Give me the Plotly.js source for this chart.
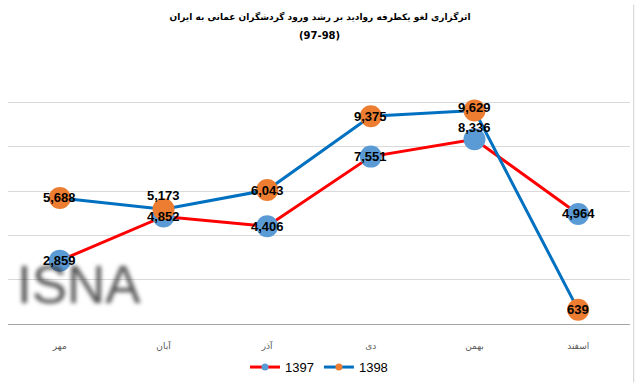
<!DOCTYPE html>
<html>
<head>
<meta charset="utf-8">
<script src="https://cdn.plot.ly/plotly-3.0.1.min.js"></script>
<style>
html,body{margin:0;padding:0;background:#fff;}
#chart{width:640px;height:390px;}
</style>
</head>
<body>
<div id="chart"></div>
<script>
const categories = ['مهر', 'آبان', 'آذر', 'دی', 'بهمن', 'اسفند'];
const series1397 = [2859, 4852, 4406, 7551, 8336, 4964];
const series1398 = [5688, 5173, 6043, 9375, 9629, 639];
const labels1397 = ['2,859', '4,852', '4,406', '7,551', '8,336', '4,964'];
const labels1398 = ['5,688', '5,173', '6,043', '9,375', '9,629', '639'];
const shift1397 = [0, 0, 0, 0, 12, 0];
const shift1398 = [0, 14, 0, 0, 3, 0];
const seriesNames = ['1397', '1398'];

const lineColors = ['#ff0000', '#0070c0'];
const markerColors = ['#5b9bd5', '#ed7d31'];

const traces = [
  {
    x: categories, y: series1397, name: seriesNames[0], type: 'scatter', mode: 'lines+markers',
    line: {color: lineColors[0], width: 3},
    marker: {color: markerColors[0], size: 22}, showlegend: false
  },
  {
    x: categories, y: series1398, name: seriesNames[1], type: 'scatter', mode: 'lines+markers',
    line: {color: lineColors[1], width: 3},
    marker: {color: markerColors[1], size: 22}, showlegend: false
  },
  // legend entries (small markers, no data)
  {
    x: [null], y: [null], name: seriesNames[0], type: 'scatter', mode: 'lines+markers',
    line: {color: lineColors[0], width: 3}, marker: {color: markerColors[0], size: 7}
  },
  {
    x: [null], y: [null], name: seriesNames[1], type: 'scatter', mode: 'lines+markers',
    line: {color: lineColors[1], width: 3}, marker: {color: markerColors[1], size: 7}
  }
];

const annotations = [];
const lblFont = {family: 'Liberation Sans, Arial, sans-serif', size: 13, color: '#000'};
// watermark first so it sits beneath labels
annotations.push({
  x: 0.012, y: 0.147, xref: 'paper', yref: 'paper', xanchor: 'left', yanchor: 'middle',
  text: 'ISNA', showarrow: false,
  font: {family: 'Liberation Sans, Arial, sans-serif', size: 53, color: 'rgba(55,55,55,0.85)'}
});
categories.forEach((c, i) => {
  annotations.push({x: c, y: series1397[i], xref: 'x', yref: 'y', text: '<b>' + labels1397[i] + '</b>',
    showarrow: false, font: lblFont, yshift: shift1397[i]});
  annotations.push({x: c, y: series1398[i], xref: 'x', yref: 'y', text: '<b>' + labels1398[i] + '</b>',
    showarrow: false, font: lblFont, yshift: shift1398[i]});
});
annotations.push({
  x: 0.5, y: (390 - 60 - 35) / 272, xref: 'paper', yref: 'paper', xanchor: 'center', yanchor: 'middle',
  text: '<b>(97-98)</b>', showarrow: false,
  font: {family: 'DejaVu Sans, sans-serif', size: 10, color: '#000'}
});

const layout = {
  width: 640, height: 390,
  margin: {l: 8, r: 10, t: 58, b: 60},
  paper_bgcolor: '#fff', plot_bgcolor: '#fff',
  title: {
    text: '<b>اثرگزاری لغو یکطرفه روادید بر رشد ورود گردشگران عمانی به ایران</b>',
    font: {family: 'DejaVu Sans, Noto Sans, sans-serif', size: 9, color: '#000'},
    x: 0.5, xanchor: 'center', y: 1 - 17 / 390, yanchor: 'middle', yref: 'container'
  },
  xaxis: {
    type: 'category', range: [-0.5, 5.5], showgrid: false,
    showline: true, linecolor: '#a6a6a6', linewidth: 1,
    ticks: '', ticklabelstandoff: 13,
    tickfont: {family: 'DejaVu Sans, sans-serif', size: 9, color: '#595959'},
    fixedrange: true
  },
  yaxis: {
    range: [0, 12000], dtick: 2000, showgrid: true, gridcolor: '#d9d9d9', gridwidth: 1,
    showticklabels: false, zeroline: false, ticks: '', fixedrange: true
  },
  showlegend: true,
  legend: {
    orientation: 'h', x: 0.5, xanchor: 'center', y: -0.162, yanchor: 'middle',
    font: {family: 'Liberation Sans, Arial, sans-serif', size: 13, color: '#000'},
    tracegroupgap: 0
  },
  annotations: annotations,
  shapes: [{type: 'line', xref: 'paper', yref: 'paper', x0: 1.006, x1: 1.006, y0: -0.22, y1: 1.2,
    line: {color: '#d0d0d0', width: 1}}]
};

Plotly.newPlot('chart', traces, layout, {displayModeBar: false, staticPlot: true}).then(() => {
  const ann = document.querySelectorAll('.annotation');
  if (ann.length) {
    ann[0].style.filter = 'blur(2px)';
  }
});
</script>
</body>
</html>
